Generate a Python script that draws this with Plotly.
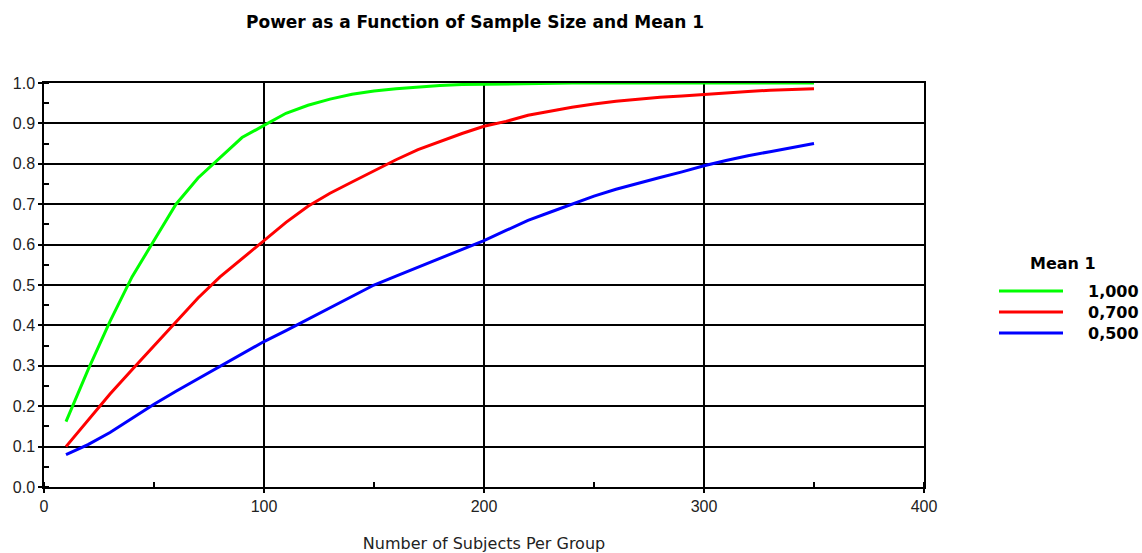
import plotly.graph_objects as go

# ---- data ----
subjects = list(range(10, 360, 10))
power_mean_1000 = [0.162, 0.29, 0.41, 0.52, 0.61, 0.70, 0.765, 0.815, 0.865, 0.895,
                   0.925, 0.945, 0.96, 0.972, 0.98, 0.986, 0.99, 0.994, 0.996, 0.997,
                   0.998, 0.999, 0.999, 1.0, 1.0, 1.0, 1.0, 1.0, 1.0, 1.0,
                   1.0, 1.0, 1.0, 1.0, 1.0]
power_mean_0700 = [0.10, 0.165, 0.23, 0.29, 0.35, 0.41, 0.468, 0.52, 0.565, 0.61,
                   0.655, 0.695, 0.727, 0.755, 0.783, 0.81, 0.835, 0.855, 0.875, 0.893,
                   0.905, 0.92, 0.93, 0.94, 0.948, 0.955, 0.96, 0.965, 0.968, 0.972,
                   0.976, 0.979, 0.982, 0.984, 0.986]
power_mean_0500 = [0.08, 0.105, 0.135, 0.17, 0.205, 0.237, 0.268, 0.30, 0.33, 0.36,
                   0.387, 0.415, 0.443, 0.47, 0.50, 0.522, 0.544, 0.566, 0.589, 0.61,
                   0.635, 0.66, 0.68, 0.70, 0.72, 0.737, 0.752, 0.766, 0.78, 0.795,
                   0.808, 0.82, 0.83, 0.84, 0.85]
series_names = ["1,000", "0,700", "0,500"]
series_values = [power_mean_1000, power_mean_0700, power_mean_0500]
series_colors = ["#00FF00", "#FF0000", "#0000FF"]
x_ticks = [0, 100, 200, 300, 400]
y_ticks = [round(i * 0.1, 1) for i in range(11)]

title_text = "Power as a Function of Sample Size and Mean 1"
x_title = "Number of Subjects Per Group"
legend_title = "Mean 1"

# body margin is removed in the page (post_script), so figure pixels = page pixels
W, H = 1142, 553
PW, PH = 880, 404
L, T = 44, 83
R, B = W - L - PW, H - T - PH

fig = go.Figure()
for name, vals, col in zip(series_names, series_values, series_colors):
    fig.add_trace(go.Scatter(x=subjects, y=vals, mode="lines", name=name,
                             line=dict(color=col, width=3), showlegend=False))

arial = "Arial, Liberation Sans, sans-serif"
dejavu = "DejaVu Sans, sans-serif"
axis_common = dict(showline=True, linecolor="black", linewidth=1.5, mirror=True,
                   showgrid=True, gridcolor="black", gridwidth=1.5,
                   ticks="outside", ticklen=4, tickcolor="black", tickwidth=1.5,
                   zeroline=False, tickfont=dict(family=arial, size=16, color="#222"))

fig.update_xaxes(range=[0, 400], tickvals=x_ticks, ticktext=[str(v) for v in x_ticks],
                 minor=dict(dtick=50, tick0=0, ticks="inside", ticklen=5, tickcolor="black",
                            tickwidth=1.5, showgrid=False),
                 title=dict(text=x_title, standoff=26,
                            font=dict(family=dejavu, size=16, color="#222")),
                 automargin=False, **axis_common)
fig.update_yaxes(range=[0, 1.0], tickvals=y_ticks, ticktext=[f"{v:.1f}" for v in y_ticks],
                 minor=dict(dtick=0.05, tick0=0, ticks="inside", ticklen=5, tickcolor="black",
                            tickwidth=1.5, showgrid=False),
                 automargin=False, **axis_common)

# manual legend, positioned in page pixels relative to the plot area
def px_x(px):
    return (px - L) / PW

def px_y(py):
    return (T + PH - py) / PH

shapes = []
annotations = []
annotations.append(dict(x=px_x(1063), y=px_y(263), xref="paper", yref="paper",
                        text=f"<b>{legend_title}</b>", showarrow=False,
                        xanchor="center", yanchor="middle",
                        font=dict(family=dejavu, size=16, color="black")))
for i, (name, col) in enumerate(zip(series_names, series_colors)):
    yy = 291 + 21 * i
    shapes.append(dict(type="line", xref="paper", yref="paper",
                       x0=px_x(999), x1=px_x(1063), y0=px_y(yy), y1=px_y(yy),
                       line=dict(color=col, width=3)))
    annotations.append(dict(x=px_x(1086), y=px_y(yy), xref="paper", yref="paper",
                            text=f"<b>{name}</b>", showarrow=False,
                            xanchor="left", yanchor="middle",
                            font=dict(family=dejavu, size=16, color="black")))

fig.update_layout(
    width=W, height=H,
    margin=dict(l=L, r=R, t=T, b=B, autoexpand=False),
    paper_bgcolor="white", plot_bgcolor="white",
    title=dict(text=f"<b>{title_text}</b>", x=475 / W, xanchor="center",
               y=1 - 22 / H, yanchor="middle",
               font=dict(family=dejavu, size=17, color="black")),
    shapes=shapes, annotations=annotations,
    showlegend=False,
)

fig.write_html(
    "out.html",
    config={"displayModeBar": False},
    post_script="document.body.style.margin='0';document.body.style.overflow='hidden';",
)
